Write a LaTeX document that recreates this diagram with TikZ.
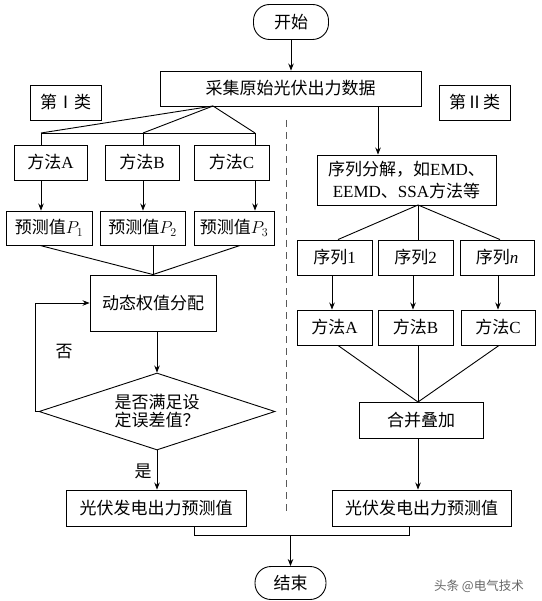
\documentclass[tikz,border=0pt]{standalone}
\usepackage{fontspec}
\setmainfont{Liberation Serif}
\newfontfamily\cjk{Noto Sans CJK SC}
\usetikzlibrary{arrows.meta,shapes.geometric}
\begin{document}
\begin{tikzpicture}[x=1pt,y=-1pt,
  line width=0.9pt,
  box/.style={draw,rectangle,inner sep=0pt,font=\fontsize{17}{21}\selectfont,align=center},
  term/.style={box,rounded corners=16pt},
  arr/.style={-{Stealth[length=7pt,width=5.5pt]}},
  lbl/.style={font=\fontsize{17}{21}\selectfont\cjk,inner sep=0pt},
]
\useasboundingbox (0,0) rectangle (541,601);
% ---- top
\node[term,minimum width=75pt,minimum height=35pt] (start) at (291,22) {\cjk 开始};
\node[box,minimum width=261pt,minimum height=35pt] (collect) at (290.5,88.5) {\cjk 采集原始光伏出力数据};
\node[box,minimum width=71pt,minimum height=35pt] (lab1) at (65.5,102.5) {\cjk 第Ⅰ类};
\node[box,minimum width=71pt,minimum height=35pt] (lab2) at (474.5,102.5) {\cjk 第Ⅱ类};
\draw[arr] (start) -- (collect.north -| start);
% ---- left branch
\node[box,minimum width=73pt,minimum height=35pt] (mA) at (50.5,162.5) {{\cjk 方法}A};
\node[box,minimum width=74pt,minimum height=35pt] (mB) at (142,162.5) {{\cjk 方法}B};
\node[box,minimum width=75pt,minimum height=35pt] (mC) at (231.5,162.5) {{\cjk 方法}C};
\node[box,minimum width=86pt,minimum height=34pt] (P1) at (49,228) {{\cjk 预测值}$P_1$};
\node[box,minimum width=85pt,minimum height=34pt] (P2) at (142.5,228) {{\cjk 预测值}$P_2$};
\node[box,minimum width=80pt,minimum height=34pt] (P3) at (234,228) {{\cjk 预测值}$P_3$};
\node[box,minimum width=126pt,minimum height=56pt] (dyn) at (153,303) {\cjk 动态权值分配};
\node[draw,diamond,aspect=3.06,minimum width=236pt,minimum height=77pt,inner sep=0pt,
      align=center,font=\fontsize{17}{18}\selectfont\cjk] (dia) at (157,411.5) {是否满足设\\定误差值？};
\node[box,minimum width=180pt,minimum height=36pt] (out1) at (156,508) {\cjk 光伏发电出力预测值};
\node[lbl] (no) at (64,352) {否};
\node[lbl] (yes) at (143,471) {是};

\coordinate (apL) at (213,106);
\coordinate (bA) at (41,133);
\coordinate (bB) at (143,133);
\coordinate (bC) at (255,133);
\draw (bA) -- (apL) -- (bC);
\draw (apL) -- (bB);
\draw (bA) -- (bC);
\draw (bA) -- (bA |- mA.north);
\draw (bB) -- (bB |- mB.north);
\draw (bC) -- (bC |- mC.north);
\draw[arr] (bA |- mA.south) -- (bA |- P1.north);
\draw[arr] (bB |- mB.south) -- (bB |- P2.north);
\draw[arr] (bC |- mC.south) -- (bC |- P3.north);

\coordinate (xp1) at (40,0);
\coordinate (xp3) at (240,0);
\draw (P1.south -| xp1) -- (dyn.north);
\draw (P2.south -| dyn.north) -- (dyn.north);
\draw (P3.south -| xp3) -- (dyn.north);

\draw[arr] (dyn.south -| dia.north) -- (dia.north);
\coordinate (lp) at (35,0);
\draw[arr] (dia.west) -- (dia.west -| lp) |- (dyn.west);
\draw[arr] (dia.south) -- (out1.north -| dia.south);

% ---- divider
\draw[gray!70!black,dash pattern=on 7pt off 5pt] (286,120) -- (286,512);

% ---- right branch
\node[box,minimum width=179pt,minimum height=50pt,font=\fontsize{17}{22}\selectfont] (seq) at (406.5,180)
  {{\cjk 序列分解，如}EMD{\cjk 、}\\EEMD{\cjk 、}SSA{\cjk 方法等}};
\node[box,minimum width=75pt,minimum height=35pt] (s1) at (334.5,257.5) {{\cjk 序列}1};
\node[box,minimum width=75pt,minimum height=35pt] (s2) at (415.5,257.5) {{\cjk 序列}2};
\node[box,minimum width=74pt,minimum height=35pt] (sn) at (497,257.5) {{\cjk 序列}\textit{n}};
\node[box,minimum width=75pt,minimum height=35pt] (rA) at (334.5,327.5) {{\cjk 方法}A};
\node[box,minimum width=75pt,minimum height=35pt] (rB) at (415.5,327.5) {{\cjk 方法}B};
\node[box,minimum width=74pt,minimum height=35pt] (rC) at (498,327.5) {{\cjk 方法}C};
\node[box,minimum width=124pt,minimum height=36pt] (merge) at (421,420) {\cjk 合并叠加};
\node[box,minimum width=179pt,minimum height=36pt] (out2) at (421.5,508) {\cjk 光伏发电出力预测值};

\coordinate (xr) at (378,0);
\draw[arr] (collect.south -| xr) -- (seq.north -| xr);
\coordinate (apR) at (418,205);
\coordinate (t1) at (338,0);
\coordinate (t3) at (500,0);
\draw (apR) -- (s1.north -| t1);
\draw (apR) -- (s2.north -| apR);
\draw (apR) -- (sn.north -| t3);
\coordinate (a1) at (332,0);
\coordinate (a2) at (413,0);
\coordinate (a3) at (498,0);
\draw[arr] (s1.south -| a1) -- (rA.north -| a1);
\draw[arr] (s2.south -| a2) -- (rB.north -| a2);
\draw[arr] (sn.south -| a3) -- (rC.north -| a3);
\coordinate (apM) at (418,402);
\draw (rA.south -| t1) -- (apM);
\draw (rB.south -| apM) -- (apM);
\coordinate (t3b) at (499,0);
\draw (rC.south -| t3b) -- (apM);
\draw[arr] (merge.south -| apM) -- (out2.north -| apM);

% ---- bottom
\node[term,minimum width=71pt,minimum height=33pt] (end) at (290.5,583) {\cjk 结束};
\coordinate (j1) at (194,535);
\coordinate (j2) at (409,535);
\draw (out1.south -| j1) -- (j1) -- (j2) -- (out2.south -| j2);
\draw[arr] (end.north |- j1) -- (end.north);

\node[inner sep=0pt,text=gray!80!black,font=\fontsize{12.5}{14}\selectfont\cjk] (wm) at (479,586) {头条 @电气技术};
\end{tikzpicture}
\end{document}
